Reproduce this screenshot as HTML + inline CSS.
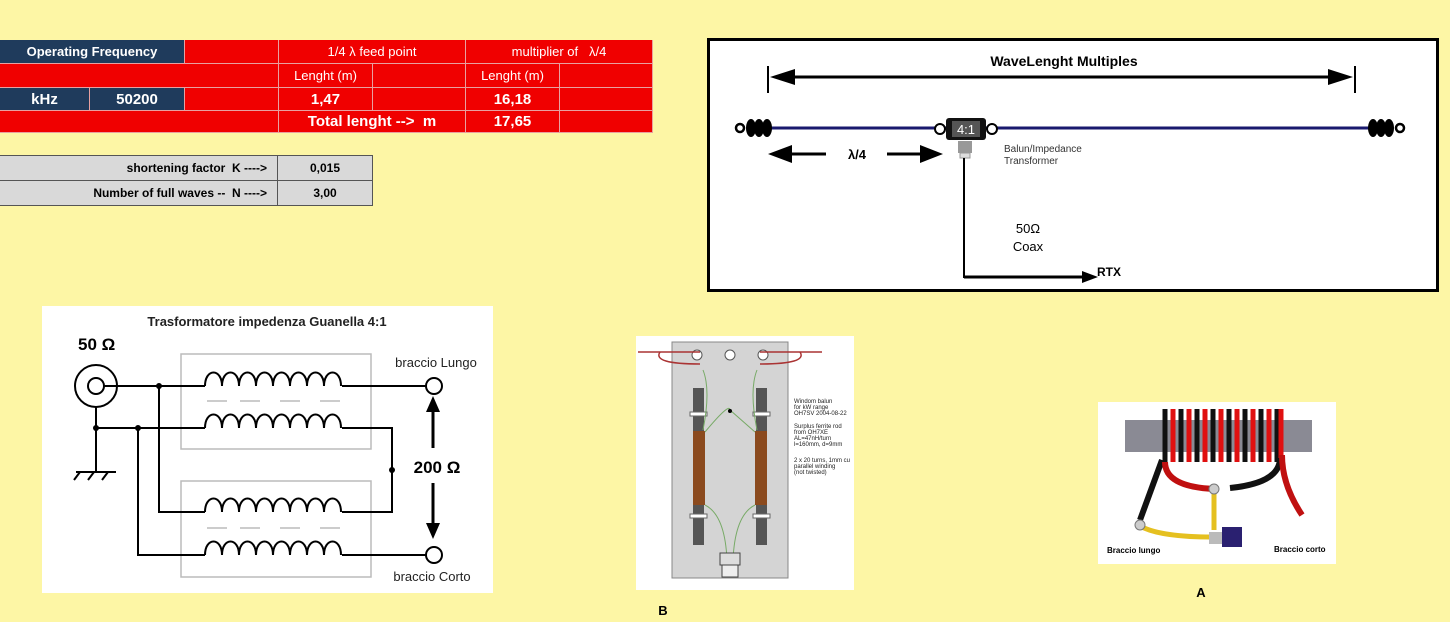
<!DOCTYPE html>
<html><head><meta charset="utf-8"><style>
html,body{margin:0;padding:0;}
body{width:1450px;height:622px;background:#fdf6a5;position:relative;overflow:hidden;font-family:"Liberation Sans",sans-serif;}
.c{position:absolute;box-sizing:border-box;color:#fff;font-weight:bold;font-size:13px;display:flex;align-items:center;justify-content:center;border-right:1px solid #e8a0a0;border-bottom:1px solid #e8a0a0;}
.r{background:#f00000;}
.n{background:#1f3b5c;}
.g{position:absolute;box-sizing:border-box;background:#d9d9d9;border:1px solid #555;font-size:12px;font-weight:bold;color:#000;display:flex;align-items:center;}
</style></head><body>
<!-- table -->
<div class="c n" style="left:0;top:40px;width:185px;height:24px;">Operating Frequency</div>
<div class="c r" style="left:185px;top:40px;width:94px;height:24px;"></div>
<div class="c r" style="left:279px;top:40px;width:187px;height:24px;font-weight:normal;">1/4 λ feed point</div>
<div class="c r" style="left:466px;top:40px;width:187px;height:24px;font-weight:normal;">multiplier of &nbsp;&nbsp;λ/4</div>
<div class="c r" style="left:0;top:64px;width:279px;height:24px;"></div>
<div class="c r" style="left:279px;top:64px;width:94px;height:24px;font-weight:normal;">Lenght (m)</div>
<div class="c r" style="left:373px;top:64px;width:93px;height:24px;"></div>
<div class="c r" style="left:466px;top:64px;width:94px;height:24px;font-weight:normal;">Lenght (m)</div>
<div class="c r" style="left:560px;top:64px;width:93px;height:24px;"></div>
<div class="c n" style="left:0;top:88px;width:90px;height:23px;font-size:15px;">kHz</div>
<div class="c n" style="left:90px;top:88px;width:95px;height:23px;font-size:15px;">50200</div>
<div class="c r" style="left:185px;top:88px;width:94px;height:23px;"></div>
<div class="c r" style="left:279px;top:88px;width:94px;height:23px;font-size:15px;">1,47</div>
<div class="c r" style="left:373px;top:88px;width:93px;height:23px;"></div>
<div class="c r" style="left:466px;top:88px;width:94px;height:23px;font-size:15px;">16,18</div>
<div class="c r" style="left:560px;top:88px;width:93px;height:23px;"></div>
<div class="c r" style="left:0;top:111px;width:279px;height:22px;"></div>
<div class="c r" style="left:279px;top:111px;width:187px;height:22px;font-size:15px;">Total lenght --&gt; &nbsp;m</div>
<div class="c r" style="left:466px;top:111px;width:94px;height:22px;font-size:15px;">17,65</div>
<div class="c r" style="left:560px;top:111px;width:93px;height:22px;"></div>

<div class="g" style="left:-1px;top:155px;width:279px;height:26px;justify-content:flex-end;padding-right:10px;">shortening factor &nbsp;K ----&gt;</div>
<div class="g" style="left:277px;top:155px;width:96px;height:26px;justify-content:center;">0,015</div>
<div class="g" style="left:-1px;top:180px;width:279px;height:26px;justify-content:flex-end;padding-right:10px;">Number of full waves -- &nbsp;N ----&gt;</div>
<div class="g" style="left:277px;top:180px;width:96px;height:26px;justify-content:center;">3,00</div>

<svg width="1450" height="622" style="position:absolute;left:0;top:0;" xmlns="http://www.w3.org/2000/svg" font-family="Liberation Sans, sans-serif">
<defs>
<marker id="ah" markerWidth="8" markerHeight="8" refX="7" refY="4" orient="auto" markerUnits="userSpaceOnUse"><path d="M0,0 L8,4 L0,8z" fill="#000"/></marker>
<g id="coil"><path d="M205,0 c0,-18 17,-18 17,0 c0,-18 17,-18 17,0 c0,-18 17,-18 17,0 c0,-18 17,-18 17,0 c0,-18 17,-18 17,0 c0,-18 17,-18 17,0 c0,-18 17,-18 17,0 c0,-18 17,-18 17,0" fill="none" stroke="#000" stroke-width="2"/></g>
</defs>
<!-- right diagram -->
<rect x="708.5" y="39.5" width="729" height="251" fill="#fff" stroke="#000" stroke-width="3"/>
<text x="1064" y="66" font-size="14" font-weight="bold" text-anchor="middle">WaveLenght Multiples</text>
<line x1="768" y1="66" x2="768" y2="93" stroke="#000" stroke-width="2"/>
<line x1="1355" y1="66" x2="1355" y2="93" stroke="#000" stroke-width="2"/>
<line x1="790" y1="77" x2="1335" y2="77" stroke="#000" stroke-width="3"/>
<path d="M770,77 L795,69 L795,85z M1353,77 L1328,69 L1328,85z" fill="#000"/>
<line x1="750" y1="128" x2="1380" y2="128" stroke="#1a1a6e" stroke-width="3"/>
<g fill="#000"><ellipse cx="751" cy="128" rx="5" ry="9"/><ellipse cx="759" cy="128" rx="5" ry="9"/><ellipse cx="767" cy="128" rx="5" ry="9"/><circle cx="740" cy="128" r="4" fill="#fff" stroke="#000" stroke-width="2.5"/>
<ellipse cx="1373" cy="128" rx="5" ry="9"/><ellipse cx="1381" cy="128" rx="5" ry="9"/><ellipse cx="1389" cy="128" rx="5" ry="9"/><circle cx="1400" cy="128" r="4" fill="#fff" stroke="#000" stroke-width="2.5"/></g>
<circle cx="940" cy="129" r="5" fill="#fff" stroke="#000" stroke-width="2"/>
<circle cx="992" cy="129" r="5" fill="#fff" stroke="#000" stroke-width="2"/>
<rect x="946" y="118" width="40" height="22" rx="3" fill="#111"/>
<rect x="952" y="121" width="28" height="16" fill="#555"/>
<text x="966" y="134" font-size="13" fill="#fff" text-anchor="middle">4:1</text>
<rect x="958" y="141" width="14" height="12" fill="#999"/>
<rect x="960" y="153" width="10" height="5" fill="#ddd" stroke="#999"/>
<text x="1004" y="152" font-size="10" fill="#333">Balun/Impedance</text>
<text x="1004" y="164" font-size="10" fill="#333">Transformer</text>
<line x1="790" y1="154" x2="826" y2="154" stroke="#000" stroke-width="3"/>
<path d="M768,154 L792,145 L792,163z" fill="#000"/>
<text x="857" y="159" font-size="13" font-weight="bold" text-anchor="middle">λ/4</text>
<line x1="887" y1="154" x2="922" y2="154" stroke="#000" stroke-width="3"/>
<path d="M943,154 L920,145 L920,163z" fill="#000"/>
<line x1="964" y1="158" x2="964" y2="278" stroke="#000" stroke-width="2"/>
<line x1="964" y1="277" x2="1085" y2="277" stroke="#000" stroke-width="3"/>
<path d="M1098,277 L1082,271 L1082,283z" fill="#000"/>
<text x="1097" y="276" font-size="12" font-weight="bold">RTX</text>
<text x="1028" y="233" font-size="13" text-anchor="middle">50Ω</text>
<text x="1028" y="251" font-size="13" text-anchor="middle">Coax</text>

<!-- Guanella -->
<rect x="42" y="306" width="451" height="287" fill="#fff"/>
<text x="267" y="326" font-size="13" font-weight="bold" text-anchor="middle" fill="#222">Trasformatore impedenza Guanella  4:1</text>
<text x="78" y="350" font-size="17" font-weight="bold">50 Ω</text>
<rect x="181" y="354" width="190" height="95" fill="none" stroke="#bbb" stroke-width="1.5"/>
<rect x="181" y="481" width="190" height="96" fill="none" stroke="#bbb" stroke-width="1.5"/>
<g stroke="#bbb" stroke-width="1.5"><path d="M207,401h20M240,401h20M280,401h20M320,401h20M207,528h20M240,528h20M280,528h20M320,528h20"/></g>
<use href="#coil" y="386"/><use href="#coil" y="428"/><use href="#coil" y="512"/><use href="#coil" y="555"/>
<circle cx="96" cy="386" r="21" fill="none" stroke="#000" stroke-width="2"/>
<circle cx="96" cy="386" r="8" fill="none" stroke="#000" stroke-width="2"/>
<g stroke="#000" stroke-width="2" fill="none">
<path d="M104,386H205M342,386H426"/>
<path d="M96,407V472M76,472H116M80,472l-6,8M94,472l-6,8M108,472l-6,8"/>
<path d="M96,428H205M342,428H392V512H342"/>
<path d="M159,386V512H205"/>
<path d="M138,428V555H205M342,555H426"/>
</g>
<g fill="#000"><circle cx="159" cy="386" r="3"/><circle cx="96" cy="428" r="3"/><circle cx="138" cy="428" r="3"/><circle cx="392" cy="470" r="3"/></g>
<circle cx="434" cy="386" r="8" fill="#fff" stroke="#000" stroke-width="2"/>
<circle cx="434" cy="555" r="8" fill="#fff" stroke="#000" stroke-width="2"/>
<line x1="433" y1="448" x2="433" y2="410" stroke="#000" stroke-width="3"/>
<path d="M433,396 L426,412 L440,412z" fill="#000"/>
<line x1="433" y1="483" x2="433" y2="526" stroke="#000" stroke-width="3"/>
<path d="M433,539 L426,523 L440,523z" fill="#000"/>
<text x="437" y="473" font-size="17" font-weight="bold" text-anchor="middle">200 Ω</text>
<text x="436" y="367" font-size="13" text-anchor="middle" fill="#222">braccio Lungo</text>
<text x="432" y="581" font-size="13" text-anchor="middle" fill="#222">braccio Corto</text>

<!-- Windom balun B -->
<rect x="636" y="336" width="218" height="254" fill="#fff"/>
<rect x="672" y="342" width="116" height="236" fill="#d4d4d4" stroke="#888"/>
<g fill="#fff" stroke="#555"><circle cx="697" cy="355" r="5"/><circle cx="730" cy="355" r="5"/><circle cx="763" cy="355" r="5"/></g>
<path d="M638,352H700M760,352H822" stroke="#a33" stroke-width="1.5"/>
<path d="M660,352q-8,12 40,12M800,352q8,12 -40,12" stroke="#a33" stroke-width="1.5" fill="none"/>
<rect x="693" y="388" width="11" height="157" fill="#555"/>
<rect x="756" y="388" width="11" height="157" fill="#555"/>
<rect x="693" y="431" width="12" height="74" fill="#8b4a1e"/>
<rect x="755" y="431" width="12" height="74" fill="#8b4a1e"/>
<g fill="#fff" stroke="#666"><rect x="690" y="412" width="17" height="4"/><rect x="753" y="412" width="17" height="4"/><rect x="690" y="514" width="17" height="4"/><rect x="753" y="514" width="17" height="4"/></g>
<path d="M703,370q8,20 0,60M757,370q-8,20 0,60M705,432q25,-30 25,-22q0,0 25,22M705,505q20,10 22,55M755,505q-20,10 -22,55" stroke="#7a6" stroke-width="1" fill="none"/>
<circle cx="730" cy="411" r="2" fill="#000"/>
<rect x="720" y="553" width="20" height="12" fill="#ddd" stroke="#444"/>
<rect x="722" y="565" width="16" height="12" fill="#eee" stroke="#444"/>
<g font-size="6" fill="#222"><text x="794" y="403">Windom balun</text><text x="794" y="409">for kW range</text><text x="794" y="415">OH7SV 2004-08-22</text>
<text x="794" y="428">Surplus ferrite rod</text><text x="794" y="434">from OH7XE</text><text x="794" y="440">AL=47nH/turn</text><text x="794" y="446">l=160mm, d=9mm</text>
<text x="794" y="462">2 x 20 turns, 1mm cu</text><text x="794" y="468">parallel winding</text><text x="794" y="474">(not twisted)</text></g>
<text x="663" y="615" font-size="13" font-weight="bold" text-anchor="middle">B</text>

<!-- photo A -->
<rect x="1098" y="402" width="238" height="162" fill="#fff"/>
<rect x="1125" y="420" width="187" height="32" fill="#8a8a94"/>
<g stroke-width="5" fill="none">
<path d="M1165,409V462M1181,409V462M1197,409V462M1213,409V462M1229,409V462M1245,409V462M1261,409V462M1277,409V462" stroke="#111"/>
<path d="M1173,409V462M1189,409V462M1205,409V462M1221,409V462M1237,409V462M1253,409V462M1269,409V462M1281,409V462" stroke="#e01010"/>
<path d="M1162,460L1140,520" stroke="#111" stroke-width="6"/>
<path d="M1165,462q0,25 50,27" stroke="#c01010" stroke-width="6"/>
<path d="M1280,458q0,25 -50,30" stroke="#111" stroke-width="6"/>
<path d="M1282,455q0,30 20,60" stroke="#c01010" stroke-width="6"/>
<path d="M1142,527q20,10 70,10M1214,490v40" stroke="#e5c020" stroke-width="5"/>
</g>
<circle cx="1214" cy="489" r="5" fill="#ccc" stroke="#777"/>
<circle cx="1140" cy="525" r="5" fill="#ccc" stroke="#777"/>
<rect x="1209" y="532" width="14" height="12" fill="#bbb"/>
<rect x="1222" y="527" width="20" height="20" fill="#2a2070"/>
<text x="1107" y="553" font-size="8" font-weight="bold">Braccio lungo</text>
<text x="1274" y="552" font-size="8" font-weight="bold">Braccio corto</text>
<text x="1201" y="597" font-size="13" font-weight="bold" text-anchor="middle">A</text>
</svg>
</body></html>
